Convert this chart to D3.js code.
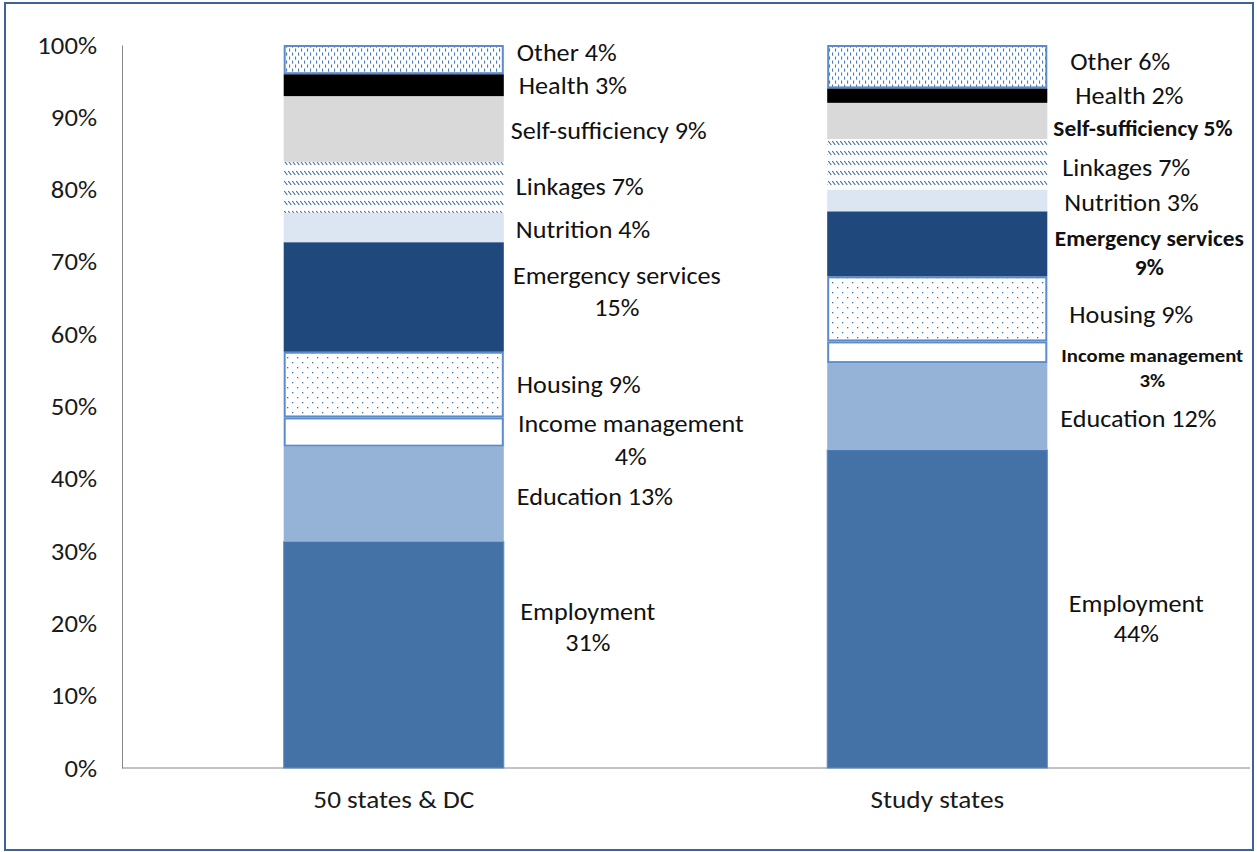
<!DOCTYPE html>
<html>
<head>
<meta charset="utf-8">
<script src="https://cdn.jsdelivr.net/npm/d3@7"></script>
<style>
  html, body { margin: 0; padding: 0; background: #fff; }
  svg { display: block; font-family: Carlito, Calibri, "Open Sans", Lato, sans-serif; }
</style>
</head>
<body>
<script>
// Share of TANF-funded services by type, 100% stacked
const categories = ["50 states & DC", "Study states"];
const serviceTypes = ["Employment", "Education", "Income management", "Housing",
  "Emergency services", "Nutrition", "Linkages", "Self-sufficiency", "Health", "Other"];
const allStatesShares = [31, 13, 4, 9, 15, 4, 7, 9, 3, 4];
const studyStatesShares = [44, 12, 3, 9, 9, 3, 7, 5, 2, 6];
const yTickValues = [0, 0.1, 0.2, 0.3, 0.4, 0.5, 0.6, 0.7, 0.8, 0.9, 1];

// Fill style for each service type
const fills = {
  "Employment": "#4472A6",
  "Education": "#95B3D7",
  "Income management": "#FFFFFF",
  "Housing": "url(#patDots)",
  "Emergency services": "#1F497D",
  "Nutrition": "#DCE6F2",
  "Linkages": "url(#patDiag)",
  "Self-sufficiency": "#D9D9D9",
  "Health": "#000000",
  "Other": "url(#patVDash)"
};
const outlined = new Set(["Income management", "Housing", "Other"]);

// Label placement next to each bar: dx from bar's right edge, dy nudge from segment middle
// mode "left" = single line, left aligned; "two" = name over value, centred
const labelLayout = [
  { // 50 states & DC
    "Employment": { mode: "two", dx: 84, dy: -27, gap: 31, size: 24 },
    "Education": { mode: "left", dx: 13, dy: 3, size: 24 },
    "Income management": { mode: "two", dx: 127, dy: 9, gap: 33, size: 24 },
    "Housing": { mode: "left", dx: 13, dy: 0, size: 24 },
    "Emergency services": { mode: "two", dx: 113, dy: -5, gap: 32, size: 24 },
    "Nutrition": { mode: "left", dx: 12, dy: 3, size: 24 },
    "Linkages": { mode: "left", dx: 12, dy: 0, size: 24 },
    "Self-sufficiency": { mode: "left", dx: 7, dy: 2, size: 24 },
    "Health": { mode: "left", dx: 15, dy: 1, size: 24 },
    "Other": { mode: "left", dx: 13, dy: -7, size: 24 }
  },
  { // Study states
    "Employment": { mode: "two", dx: 89, dy: 10, gap: 30, size: 24 },
    "Education": { mode: "left", dx: 13, dy: 13, size: 24 },
    "Income management": { mode: "two", dx: 105, dy: 16, gap: 25, size: 19, bold: true },
    "Housing": { mode: "left", dx: 22, dy: 6, size: 24 },
    "Emergency services": { mode: "two", dx: 102, dy: 10, gap: 29, size: 21.5, bold: true },
    "Nutrition": { mode: "left", dx: 17, dy: 3, size: 24 },
    "Linkages": { mode: "left", dx: 15, dy: 4, size: 24 },
    "Self-sufficiency": { mode: "left", dx: 6, dy: 8, size: 21.5, bold: true },
    "Health": { mode: "left", dx: 28, dy: 0, size: 24 },
    "Other": { mode: "left", dx: 23, dy: -5, size: 24 }
  }
];

const W = 1257, H = 852;
const plot = { left: 122, right: 1209, axisEnd: 1250, top: 45, bottom: 768 };
const stretch = 1.09; // text is set slightly wide

const svg = d3.select("body").append("svg").attr("width", W).attr("height", H);

// Places a horizontally widened text string with its anchor at (x, y)
function addText(g, x, y, str, size, opts = {}) {
  return g.append("text")
    .attr("transform", `translate(${x},${y}) scale(${stretch},1)`)
    .attr("text-anchor", opts.anchor || "start")
    .attr("font-size", size)
    .attr("font-weight", opts.bold ? 700 : 400)
    .attr("fill", "#111")
    .text(str);
}

// Hatch patterns
const defs = svg.append("defs");
const dots = defs.append("pattern").attr("id", "patDots")
  .attr("patternUnits", "userSpaceOnUse").attr("width", 10).attr("height", 10);
dots.append("rect").attr("width", 10).attr("height", 10).attr("fill", "#fff");
dots.append("rect").attr("x", 2).attr("y", 2).attr("width", 1.3).attr("height", 1.3).attr("fill", "#3F6FAE");
dots.append("rect").attr("x", 7).attr("y", 7).attr("width", 1.3).attr("height", 1.3).attr("fill", "#3F6FAE");

const vdash = defs.append("pattern").attr("id", "patVDash")
  .attr("patternUnits", "userSpaceOnUse").attr("width", 6).attr("height", 8);
vdash.append("rect").attr("width", 6).attr("height", 8).attr("fill", "#fff");
vdash.append("rect").attr("x", 1).attr("y", 0.5).attr("width", 1.1).attr("height", 3.2).attr("fill", "#4A7EBE");
vdash.append("rect").attr("x", 4).attr("y", 4.5).attr("width", 1.1).attr("height", 3.2).attr("fill", "#4A7EBE");

const diag = defs.append("pattern").attr("id", "patDiag")
  .attr("patternUnits", "userSpaceOnUse").attr("width", 4).attr("height", 10);
diag.append("rect").attr("width", 4).attr("height", 10).attr("fill", "#fff");
diag.append("path").attr("d", "M0.3,1 L3.3,5").attr("stroke", "#3F6FAE").attr("stroke-width", 1.2);

// Outer frame
svg.append("rect").attr("x", 5).attr("y", 3).attr("width", 1248).attr("height", 847)
  .attr("fill", "none").attr("stroke", "#3C6496").attr("stroke-width", 2);

// Scales
const x = d3.scaleBand().domain(categories).range([plot.left, plot.right])
  .paddingInner(0.595).paddingOuter(0.2975);
const y = d3.scaleLinear().domain([0, 1]).range([plot.bottom, plot.top]);

// Data table and stack
const rows = categories.map((c, i) => {
  const vals = i === 0 ? allStatesShares : studyStatesShares;
  const r = { category: c };
  serviceTypes.forEach((s, j) => { r[s] = vals[j]; });
  return r;
});
const series = d3.stack().keys(serviceTypes).offset(d3.stackOffsetExpand)(rows);

// Y axis: line from the axis generator, tick labels set wide
const yAxis = d3.axisLeft(y).tickValues(yTickValues).tickFormat(d3.format(".0%"))
  .tickSize(0).tickSizeOuter(0).tickPadding(25);
const gy = svg.append("g").attr("transform", `translate(${plot.left},0)`).call(yAxis);
gy.select(".domain").attr("stroke", "#868686");
gy.selectAll(".tick text").each(function (d) {
  d3.select(this)
    .attr("x", null).attr("dy", null)
    .attr("transform", `translate(-25,${0.33 * 24.5}) scale(${stretch},1)`)
    .attr("font-size", 24.5).attr("fill", "#1a1a1a")
    .attr("font-family", "Carlito, Calibri, 'Open Sans', sans-serif");
});

// X axis baseline and category labels
svg.append("line").attr("x1", plot.left).attr("x2", plot.axisEnd)
  .attr("y1", plot.bottom).attr("y2", plot.bottom).attr("stroke", "#868686");
const gx = svg.append("g");
categories.forEach(c => {
  addText(gx, x(c) + x.bandwidth() / 2, 808, c, 25, { anchor: "middle" }).attr("fill", "#1a1a1a");
});

// Stacked segments
const gBars = svg.append("g");
series.forEach(s => {
  const key = s.key;
  const inset = outlined.has(key) ? 1 : 0;
  gBars.append("g").selectAll("rect").data(s).join("rect")
    .attr("x", d => x(d.data.category) + inset)
    .attr("width", x.bandwidth() - 2 * inset)
    .attr("y", d => y(d[1]) + inset)
    .attr("height", d => y(d[0]) - y(d[1]) - 2 * inset)
    .attr("fill", fills[key])
    .attr("stroke", outlined.has(key) || key === "Employment" ? "#5B8BCB" : "none")
    .attr("stroke-width", outlined.has(key) ? 2 : 1);
});

// Segment labels
const gLabels = svg.append("g");
categories.forEach((c, i) => {
  const vals = i === 0 ? allStatesShares : studyStatesShares;
  const barRight = x(c) + x.bandwidth();
  series.forEach((s, j) => {
    const key = s.key;
    const d = s[i];
    const L = labelLayout[i][key];
    const cy = (y(d[0]) + y(d[1])) / 2 + L.dy;
    const pct = `${vals[j]}%`;
    const base = 0.33 * L.size;
    if (L.mode === "left") {
      addText(gLabels, barRight + L.dx, cy + base, `${key} ${pct}`, L.size, { bold: L.bold });
    } else {
      const cx = barRight + L.dx;
      addText(gLabels, cx, cy - L.gap / 2 + base, key, L.size, { bold: L.bold, anchor: "middle" });
      addText(gLabels, cx, cy + L.gap / 2 + base, pct, L.size, { bold: L.bold, anchor: "middle" });
    }
  });
});
</script>
</body>
</html>
